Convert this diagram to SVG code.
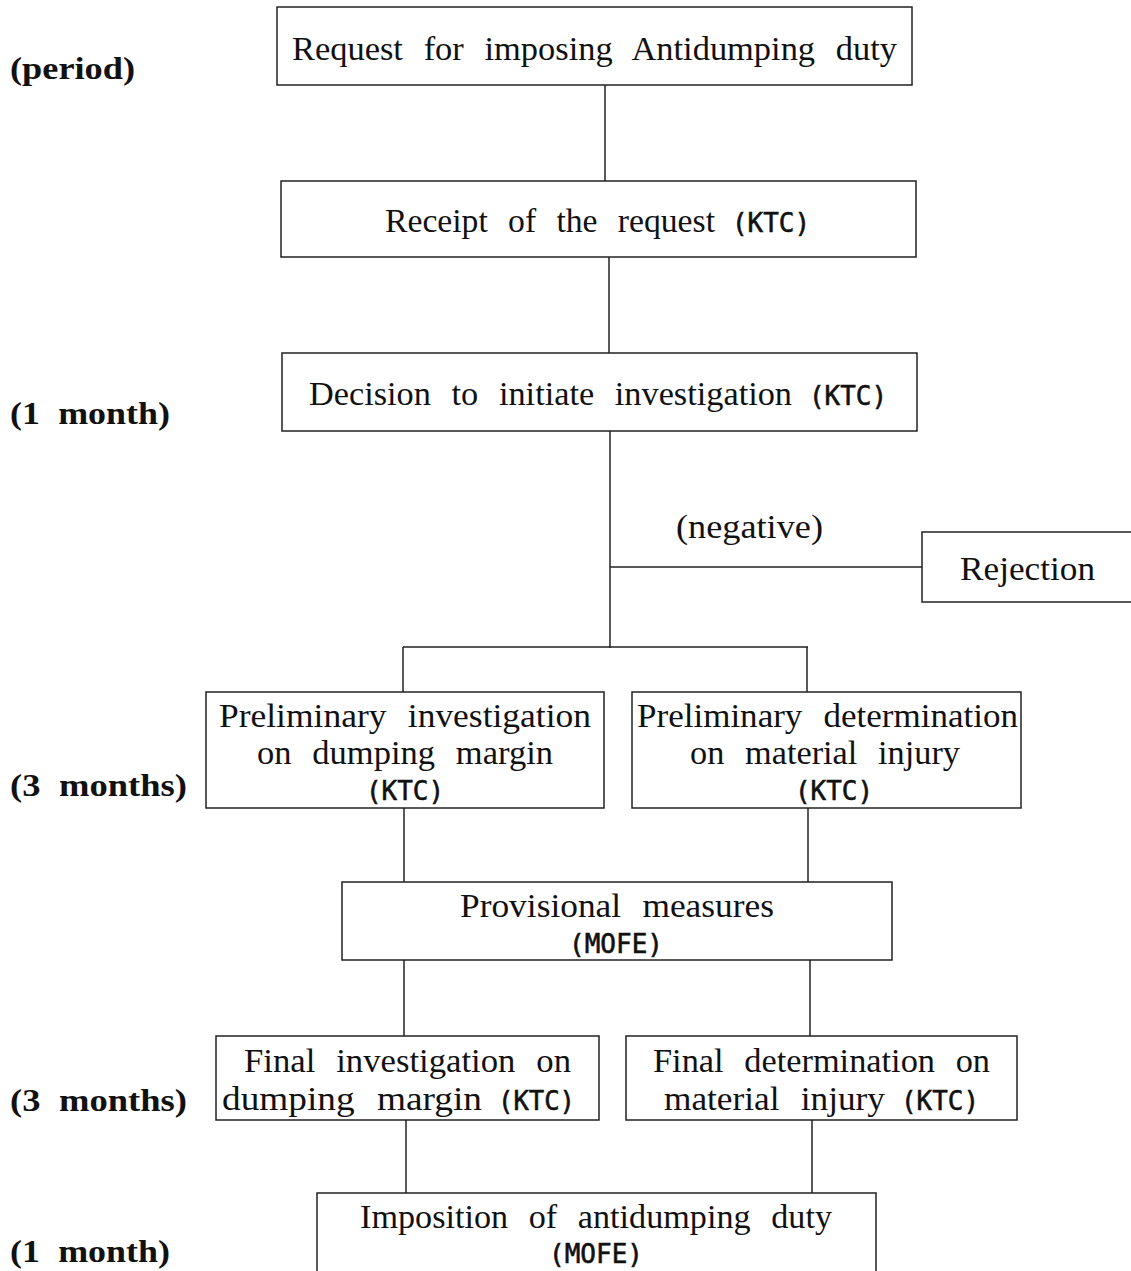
<svg xmlns="http://www.w3.org/2000/svg" width="1131" height="1271" viewBox="0 0 1131 1271">
<style>
.box{fill:#fff;stroke:#222;stroke-width:1.5}
.t{font-family:"Liberation Serif",serif;font-size:34px;fill:#111;word-spacing:12px}
.m{font-family:"DejaVu Sans Mono",monospace;font-size:27px;fill:#111;stroke:#111;stroke-width:0.6}
.p{font-family:"Liberation Serif",serif;font-size:31px;font-weight:bold;fill:#111;word-spacing:8px}
.c{stroke:#222;stroke-width:1.5;fill:none}
</style>
<rect width="1131" height="1271" fill="#fff"/>
<g id="connectors">
<line class="c" x1="605" y1="85" x2="605" y2="181"/>
<line class="c" x1="609" y1="257" x2="609" y2="353"/>
<line class="c" x1="610" y1="431" x2="610" y2="648"/>
<line class="c" x1="610" y1="567" x2="922" y2="567"/>
<line class="c" x1="403" y1="647" x2="808" y2="647"/>
<line class="c" x1="403" y1="647" x2="403" y2="692"/>
<line class="c" x1="807" y1="647" x2="807" y2="692"/>
<line class="c" x1="404" y1="808" x2="404" y2="882"/>
<line class="c" x1="808" y1="808" x2="808" y2="882"/>
<line class="c" x1="404" y1="960" x2="404" y2="1036"/>
<line class="c" x1="810" y1="960" x2="810" y2="1036"/>
<line class="c" x1="406" y1="1120" x2="406" y2="1193"/>
<line class="c" x1="812" y1="1120" x2="812" y2="1193"/>
<text class="t" x="676" y="538" textLength="147" lengthAdjust="spacingAndGlyphs">(negative)</text>
</g>
<g id="periods">
<text class="p" x="10" y="79" textLength="125" lengthAdjust="spacingAndGlyphs">(period)</text>
<text class="p" x="10" y="424" textLength="160" lengthAdjust="spacingAndGlyphs">(1 month)</text>
<text class="p" x="10" y="796" textLength="177" lengthAdjust="spacingAndGlyphs">(3 months)</text>
<text class="p" x="10" y="1111" textLength="177" lengthAdjust="spacingAndGlyphs">(3 months)</text>
<text class="p" x="10" y="1262" textLength="160" lengthAdjust="spacingAndGlyphs">(1 month)</text>
</g>
<g id="n1"><rect class="box" x="277" y="7" width="635" height="78"/>
<text class="t" x="292" y="60" textLength="605" lengthAdjust="spacingAndGlyphs">Request for imposing Antidumping duty</text></g>
<g id="n2"><rect class="box" x="281" y="181" width="635" height="76"/>
<text class="t" x="385" y="232" textLength="330" lengthAdjust="spacingAndGlyphs">Receipt of the request</text>
<text class="m" x="732" y="232" textLength="78" lengthAdjust="spacingAndGlyphs">(KTC)</text></g>
<g id="n3"><rect class="box" x="282" y="353" width="635" height="78"/>
<text class="t" x="309" y="405" textLength="483" lengthAdjust="spacingAndGlyphs">Decision to initiate investigation</text>
<text class="m" x="809" y="405" textLength="78" lengthAdjust="spacingAndGlyphs">(KTC)</text></g>
<g id="n4"><rect class="box" x="922" y="532" width="215" height="70"/>
<text class="t" x="960" y="580" textLength="135" lengthAdjust="spacingAndGlyphs">Rejection</text></g>
<g id="n5"><rect class="box" x="206" y="692" width="398" height="116"/>
<text class="t" x="219" y="727" textLength="372" lengthAdjust="spacingAndGlyphs">Preliminary investigation</text>
<text class="t" x="257" y="764" textLength="296" lengthAdjust="spacingAndGlyphs">on dumping margin</text>
<text class="m" x="366" y="800" textLength="78" lengthAdjust="spacingAndGlyphs">(KTC)</text></g>
<g id="n6"><rect class="box" x="632" y="692" width="389" height="116"/>
<text class="t" x="637" y="727" textLength="381" lengthAdjust="spacingAndGlyphs">Preliminary determination</text>
<text class="t" x="690" y="764" textLength="270" lengthAdjust="spacingAndGlyphs">on material injury</text>
<text class="m" x="795" y="800" textLength="78" lengthAdjust="spacingAndGlyphs">(KTC)</text></g>
<g id="n7"><rect class="box" x="342" y="882" width="550" height="78"/>
<text class="t" x="460" y="917" textLength="314" lengthAdjust="spacingAndGlyphs">Provisional measures</text>
<text class="m" x="569" y="953" textLength="94" lengthAdjust="spacingAndGlyphs">(MOFE)</text></g>
<g id="n8"><rect class="box" x="216" y="1036" width="383" height="84"/>
<text class="t" x="244" y="1072" textLength="327" lengthAdjust="spacingAndGlyphs">Final investigation on</text>
<text class="t" x="222" y="1110" textLength="260" lengthAdjust="spacingAndGlyphs">dumping margin</text>
<text class="m" x="498" y="1110" textLength="77" lengthAdjust="spacingAndGlyphs">(KTC)</text></g>
<g id="n9"><rect class="box" x="626" y="1036" width="391" height="84"/>
<text class="t" x="653" y="1072" textLength="337" lengthAdjust="spacingAndGlyphs">Final determination on</text>
<text class="t" x="664" y="1110" textLength="221" lengthAdjust="spacingAndGlyphs">material injury</text>
<text class="m" x="901" y="1110" textLength="78" lengthAdjust="spacingAndGlyphs">(KTC)</text></g>
<g id="n10"><rect class="box" x="317" y="1193" width="559" height="90"/>
<text class="t" x="360" y="1228" textLength="472" lengthAdjust="spacingAndGlyphs">Imposition of antidumping duty</text>
<text class="m" x="549" y="1263" textLength="94" lengthAdjust="spacingAndGlyphs">(MOFE)</text></g>
</svg>
